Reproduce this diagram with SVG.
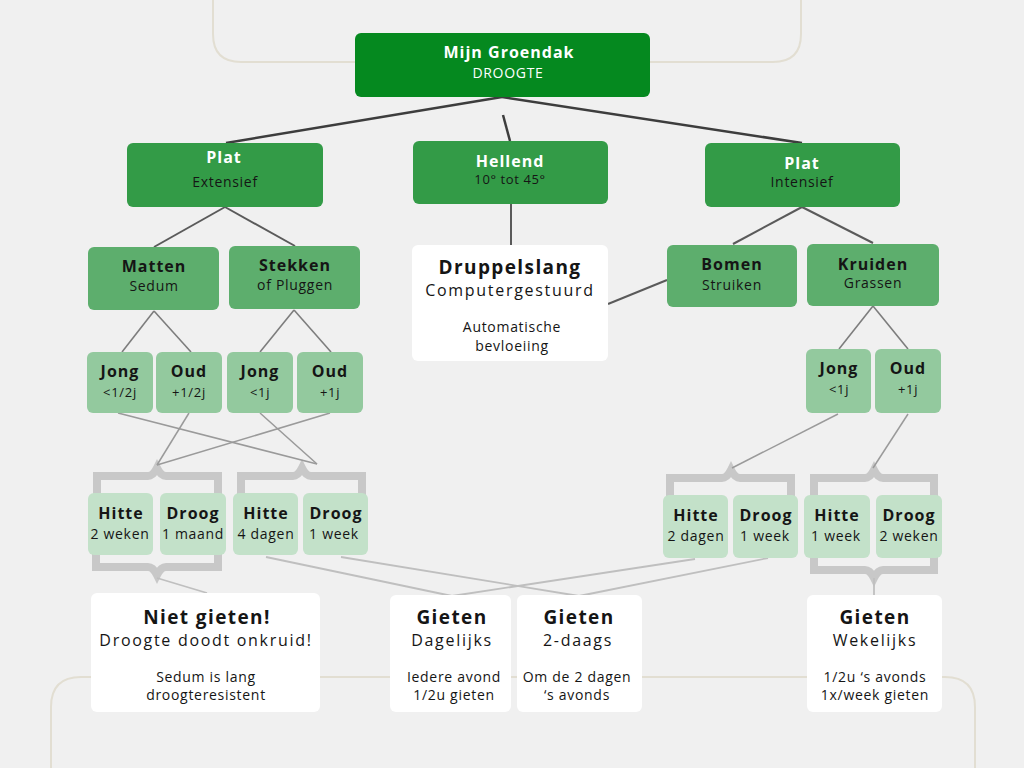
<svg xmlns="http://www.w3.org/2000/svg" width="1024" height="768" viewBox="0 0 1024 768">
<style>
text{font-family:"Open Sans","Liberation Sans",sans-serif;text-anchor:middle;fill:#151515}
.b{font-weight:700;font-size:16px;letter-spacing:1px}
.s{font-size:14px;letter-spacing:0.7px}
.t{font-size:13px;letter-spacing:0.7px}
.w{fill:#ffffff}
.hb{font-weight:700;font-size:19px;letter-spacing:1.4px}
.hm{font-size:16px;letter-spacing:1.7px}
.c0{fill:#05891f}
.c1{fill:#339b47}
.c2{fill:#5dae6d}
.c3{fill:#93c99e}
.c4{fill:#c3e1c9}
.cw{fill:#ffffff}
.frame{fill:none;stroke:#e2ded2;stroke-width:2}
.brk{fill:none;stroke:#c8c8c8;stroke-width:8;stroke-linejoin:miter}
.k1{stroke:#3d3d3d;stroke-width:2.5;fill:none}
.k2{stroke:#5a5a5a;stroke-width:2;fill:none}
.k3{stroke:#7d7d7d;stroke-width:1.6;fill:none}
.k4{stroke:#9a9a9a;stroke-width:1.5;fill:none}
.k5{stroke:#bfbfbf;stroke-width:1.8;fill:none}
</style>
<rect width="1024" height="768" fill="#f0f0f0"/>
<g id="frames">
<path class="frame" d="M213,-10 V34 Q213,62 241,62 H773 Q801,62 801,34 V-10"/>
<path class="frame" d="M51,790 V707 Q51,677 81,677 H945 Q975,677 975,707 V790"/>
</g>
<g id="brackets">
<path class="brk" d="M97,498 V476 H148 Q153,476 157,468 Q161,476 166,476 H218 V498"/>
<path class="brk" d="M241,498 V476 H293 Q298,476 302,468 Q306,476 311,476 H362 V498"/>
<path class="brk" d="M96,552 V567 H148 Q153,567 157,575 Q161,567 166,567 H218 V552"/>
<path class="brk" d="M670,500 V478 H722 Q727,478 731,470 Q735,478 740,478 H791 V500"/>
<path class="brk" d="M814,500 V478 H865 Q870,478 874,470 Q878,478 883,478 H934 V500"/>
<path class="brk" d="M814,555 V570 H865 Q870,570 874,578 Q878,570 883,570 H934 V555"/>
</g>
<g id="connectors">
<line class="k1" x1="502" y1="97" x2="226" y2="143"/>
<line class="k1" x1="502" y1="97" x2="802" y2="143"/>
<line class="k1" x1="503" y1="115" x2="510" y2="141"/>
<line class="k2" x1="511" y1="204" x2="511" y2="245"/>
<line class="k2" x1="608" y1="304" x2="667" y2="280"/>
<line class="k2" x1="225" y1="207" x2="154" y2="247"/>
<line class="k2" x1="225" y1="207" x2="295" y2="246"/>
<line class="k2" x1="802" y1="207" x2="733" y2="244"/>
<line class="k2" x1="802" y1="207" x2="873" y2="243"/>
<line class="k3" x1="154" y1="311" x2="122" y2="352"/>
<line class="k3" x1="154" y1="311" x2="191" y2="352"/>
<line class="k3" x1="294" y1="310" x2="260" y2="352"/>
<line class="k3" x1="294" y1="310" x2="331" y2="352"/>
<line class="k3" x1="873" y1="306" x2="839" y2="349"/>
<line class="k3" x1="873" y1="306" x2="908" y2="349"/>
<line class="k4" x1="118" y1="413" x2="317" y2="464"/>
<line class="k4" x1="260" y1="413" x2="317" y2="464"/>
<line class="k4" x1="189" y1="413" x2="157" y2="465"/>
<line class="k4" x1="330" y1="413" x2="157" y2="465"/>
<line class="k4" x1="838" y1="414" x2="732" y2="468"/>
<line class="k4" x1="908" y1="414" x2="873" y2="468"/>
<line class="k5" x1="157" y1="578" x2="207" y2="593"/>
<line class="k5" x1="266" y1="557" x2="452" y2="596"/>
<line class="k5" x1="341" y1="557" x2="579" y2="596"/>
<line class="k5" x1="695" y1="559" x2="452" y2="596"/>
<line class="k5" x1="768" y1="558" x2="579" y2="596"/>
<line class="k5" x1="874" y1="578" x2="874" y2="595"/>
</g>
<g id="n-root"><rect class="c0" x="355" y="33" width="295" height="64" rx="6"/><text class="b w" x="509" y="58">Mijn Groendak</text><text class="s w" x="508" y="78">DROOGTE</text></g>
<g id="n-plat-ext"><rect class="c1" x="127" y="143" width="196" height="64" rx="6"/><text class="b w" x="224" y="163">Plat</text><text class="s" x="225" y="187">Extensief</text></g>
<g id="n-hellend"><rect class="c1" x="413" y="141" width="195" height="63" rx="6"/><text class="b w" x="510" y="167">Hellend</text><text class="s" x="510" y="184" style="font-size:13px;letter-spacing:0.6px">10° tot 45°</text></g>
<g id="n-plat-int"><rect class="c1" x="705" y="143" width="195" height="64" rx="6"/><text class="b w" x="802" y="169">Plat</text><text class="s" x="802" y="187">Intensief</text></g>
<g id="n-matten"><rect class="c2" x="88" y="247" width="131" height="63" rx="6"/><text class="b" x="154" y="272">Matten</text><text class="s" x="154" y="291">Sedum</text></g>
<g id="n-stekken"><rect class="c2" x="229" y="246" width="131" height="63" rx="6"/><text class="b" x="295" y="271">Stekken</text><text class="s" x="295" y="290">of Pluggen</text></g>
<g id="n-bomen"><rect class="c2" x="667" y="245" width="130" height="62" rx="6"/><text class="b" x="732" y="270">Bomen</text><text class="s" x="732" y="290">Struiken</text></g>
<g id="n-kruiden"><rect class="c2" x="807" y="244" width="132" height="62" rx="6"/><text class="b" x="873" y="270">Kruiden</text><text class="s" x="873" y="288">Grassen</text></g>
<g id="n-druppel"><rect class="cw" x="412" y="245" width="196" height="116" rx="6"/><text class="hb" x="510" y="274">Druppelslang</text><text class="hm" x="510" y="296">Computergestuurd</text><text class="s" x="512" y="332">Automatische</text><text class="s" x="512" y="351">bevloeiing</text></g>
<g id="n-jong1"><rect class="c3" x="87" y="352" width="66" height="61" rx="6"/><text class="b" x="120" y="377">Jong</text><text class="t" x="120" y="397">&lt;1/2j</text></g>
<g id="n-oud1"><rect class="c3" x="156" y="352" width="66" height="61" rx="6"/><text class="b" x="189" y="377">Oud</text><text class="t" x="189" y="397">+1/2j</text></g>
<g id="n-jong2"><rect class="c3" x="227" y="352" width="66" height="61" rx="6"/><text class="b" x="260" y="377">Jong</text><text class="t" x="260" y="397">&lt;1j</text></g>
<g id="n-oud2"><rect class="c3" x="297" y="352" width="66" height="61" rx="6"/><text class="b" x="330" y="377">Oud</text><text class="t" x="330" y="397">+1j</text></g>
<g id="n-jong3"><rect class="c3" x="806" y="349" width="65" height="64" rx="6"/><text class="b" x="839" y="374">Jong</text><text class="t" x="839" y="394">&lt;1j</text></g>
<g id="n-oud3"><rect class="c3" x="875" y="349" width="66" height="64" rx="6"/><text class="b" x="908" y="374">Oud</text><text class="t" x="908" y="394">+1j</text></g>
<g id="n-h1"><rect class="c4" x="88" y="493" width="65" height="62" rx="6"/><text class="b" x="121" y="519">Hitte</text><text class="s" x="120" y="539">2 weken</text></g>
<g id="n-d1"><rect class="c4" x="160" y="493" width="66" height="62" rx="6"/><text class="b" x="193" y="519">Droog</text><text class="s" x="193" y="539">1 maand</text></g>
<g id="n-h2"><rect class="c4" x="233" y="493" width="65" height="62" rx="6"/><text class="b" x="266" y="519">Hitte</text><text class="s" x="266" y="539">4 dagen</text></g>
<g id="n-d2"><rect class="c4" x="303" y="493" width="65" height="62" rx="6"/><text class="b" x="336" y="519">Droog</text><text class="s" x="334" y="539">1 week</text></g>
<g id="n-h3"><rect class="c4" x="663" y="495" width="65" height="63" rx="6"/><text class="b" x="696" y="521">Hitte</text><text class="s" x="696" y="541">2 dagen</text></g>
<g id="n-d3"><rect class="c4" x="733" y="495" width="65" height="63" rx="6"/><text class="b" x="766" y="521">Droog</text><text class="s" x="765" y="541">1 week</text></g>
<g id="n-h4"><rect class="c4" x="804" y="495" width="66" height="63" rx="6"/><text class="b" x="837" y="521">Hitte</text><text class="s" x="836" y="541">1 week</text></g>
<g id="n-d4"><rect class="c4" x="876" y="495" width="66" height="63" rx="6"/><text class="b" x="909" y="521">Droog</text><text class="s" x="909" y="541">2 weken</text></g>
<g id="n-niet"><rect class="cw" x="91" y="593" width="229" height="119" rx="6"/><text class="hb" x="207" y="624">Niet gieten!</text><text class="hm" x="206" y="646">Droogte doodt onkruid!</text><text class="s" x="206" y="682">Sedum is lang</text><text class="s" x="206" y="700">droogteresistent</text></g>
<g id="n-dagelijks"><rect class="cw" x="390" y="595" width="121" height="117" rx="6"/><text class="hb" x="452" y="624">Gieten</text><text class="hm" x="452" y="646">Dagelijks</text><text class="s" x="454" y="682">Iedere avond</text><text class="s" x="454" y="700">1/2u gieten</text></g>
<g id="n-2daags"><rect class="cw" x="517" y="595" width="125" height="117" rx="6"/><text class="hb" x="579" y="624">Gieten</text><text class="hm" x="578" y="646">2-daags</text><text class="s" x="577" y="682">Om de 2 dagen</text><text class="s" x="577" y="700">‘s avonds</text></g>
<g id="n-wekelijks"><rect class="cw" x="807" y="595" width="135" height="117" rx="6"/><text class="hb" x="875" y="624">Gieten</text><text class="hm" x="875" y="646">Wekelijks</text><text class="s" x="875" y="682">1/2u ‘s avonds</text><text class="s" x="875" y="700">1x/week gieten</text></g>
</svg>
